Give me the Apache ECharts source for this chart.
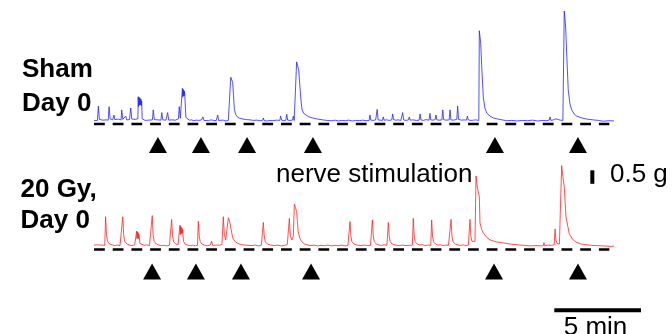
<!DOCTYPE html>
<html><head><meta charset="utf-8">
<script src="https://cdn.jsdelivr.net/npm/echarts@6/dist/echarts.min.js"></script>
<style>html,body{margin:0;padding:0;background:#fff}#c{width:672px;height:334px}</style>
</head><body><div id="c"></div>
<script>
// time in minutes, force in g (baseline = 0)
const shamTrace = [[0.00,0.03],[0.10,0.06],[0.20,0.04],[0.25,0.57],[0.31,0.08],[0.40,0.10],[0.50,0.05],[0.60,0.12],[0.70,0.06],[0.82,0.05],[0.87,0.55],[0.93,0.10],[1.00,0.08],[1.08,0.06],[1.15,0.24],[1.20,0.07],[1.30,0.04],[1.40,0.09],[1.50,0.05],[1.56,0.06],[1.60,0.43],[1.66,0.08],[1.75,0.05],[1.83,0.20],[1.88,0.06],[1.95,0.04],[2.05,0.07],[2.12,0.50],[2.18,0.09],[2.28,0.05],[2.38,0.08],[2.48,0.06],[2.53,0.10],[2.55,0.92],[2.57,0.55],[2.59,0.90],[2.61,0.60],[2.63,0.88],[2.65,0.62],[2.67,0.85],[2.69,0.62],[2.71,0.82],[2.73,0.58],[2.75,0.75],[2.78,0.10],[2.85,0.06],[2.95,0.04],[3.05,0.08],[3.15,0.05],[3.25,0.03],[3.37,0.06],[3.42,0.43],[3.48,0.07],[3.58,0.04],[3.70,0.06],[3.80,0.03],[3.86,0.05],[3.91,0.33],[3.97,0.06],[4.05,0.04],[4.15,0.05],[4.20,0.06],[4.25,0.33],[4.31,0.05],[4.40,0.03],[4.50,0.06],[4.60,0.04],[4.70,0.05],[4.80,0.08],[4.87,0.10],[4.92,0.55],[4.98,0.12],[5.06,0.10],[5.10,1.23],[5.12,0.90],[5.14,1.20],[5.16,0.95],[5.18,1.15],[5.20,0.95],[5.22,1.12],[5.24,0.98],[5.27,1.05],[5.30,0.15],[5.38,0.08],[5.50,0.05],[5.62,0.06],[5.75,0.03],[5.90,0.05],[6.05,0.04],[6.20,0.06],[6.25,0.03],[6.29,0.17],[6.34,0.04],[6.45,0.05],[6.60,0.03],[6.75,0.06],[6.90,0.04],[7.05,0.03],[7.10,0.05],[7.14,0.24],[7.19,0.04],[7.30,0.03],[7.45,0.05],[7.60,0.02],[7.75,0.04],[7.84,0.03],[7.89,1.64],[8.00,1.45],[8.05,0.95],[8.10,0.45],[8.18,0.25],[8.30,0.15],[8.42,0.12],[8.60,0.09],[8.80,0.07],[9.00,0.06],[9.20,0.04],[9.40,0.05],[9.60,0.03],[9.72,0.04],[9.77,0.13],[9.82,0.03],[10.00,0.02],[10.15,0.04],[10.28,0.03],[10.33,0.10],[10.38,0.03],[10.55,0.05],[10.72,0.04],[10.77,0.20],[10.82,0.05],[10.95,0.03],[11.07,0.05],[11.12,0.27],[11.17,0.05],[11.30,0.04],[11.45,0.05],[11.50,0.20],[11.55,0.04],[11.64,0.03],[11.69,2.21],[11.81,1.91],[11.88,1.30],[11.94,0.80],[12.00,0.45],[12.10,0.30],[12.20,0.23],[12.40,0.17],[12.63,0.13],[12.90,0.09],[13.20,0.06],[13.42,0.04],[13.70,0.03],[13.90,0.05],[14.10,0.02],[14.30,0.04],[14.50,0.03],[14.70,0.05],[14.90,0.02],[15.10,0.04],[15.30,0.03],[15.50,0.05],[15.70,0.03],[15.87,0.04],[15.92,0.24],[15.97,0.05],[16.10,0.04],[16.25,0.06],[16.30,0.05],[16.34,0.45],[16.39,0.06],[16.50,0.05],[16.64,0.04],[16.69,0.17],[16.74,0.05],[16.90,0.06],[17.05,0.04],[17.18,0.06],[17.23,0.28],[17.28,0.07],[17.40,0.05],[17.55,0.06],[17.70,0.04],[17.76,0.07],[17.81,0.33],[17.86,0.06],[18.00,0.04],[18.14,0.06],[18.19,0.17],[18.24,0.05],[18.40,0.06],[18.60,0.04],[18.76,0.05],[18.81,0.28],[18.86,0.06],[19.00,0.04],[19.15,0.07],[19.33,0.05],[19.38,0.30],[19.43,0.06],[19.55,0.05],[19.68,0.07],[19.73,0.24],[19.78,0.06],[19.90,0.05],[20.07,0.06],[20.12,0.43],[20.17,0.07],[20.30,0.05],[20.49,0.06],[20.54,0.43],[20.59,0.06],[20.75,0.05],[20.93,0.08],[20.98,0.57],[21.03,0.08],[21.20,0.05],[21.35,0.06],[21.49,0.05],[21.54,0.20],[21.59,0.06],[21.75,0.04],[21.90,0.05],[22.03,0.06],[22.08,0.13],[22.13,0.05],[22.20,0.04],[22.23,3.36],[22.31,2.90],[22.37,2.02],[22.46,0.91],[22.55,0.50],[22.66,0.31],[22.85,0.20],[23.04,0.13],[23.30,0.09],[23.55,0.06],[23.81,0.03],[24.10,0.04],[24.40,0.02],[24.70,0.04],[25.00,0.03],[25.30,0.05],[25.60,0.02],[25.90,0.04],[26.10,0.03],[26.26,0.05],[26.31,0.17],[26.36,0.04],[26.50,0.06],[26.65,0.10],[26.72,0.04],[26.90,0.05],[27.05,0.04],[27.09,0.06],[27.13,4.09],[27.21,3.50],[27.27,2.54],[27.36,1.17],[27.46,0.65],[27.56,0.43],[27.70,0.28],[27.85,0.20],[28.10,0.14],[28.42,0.09],[28.80,0.06],[29.10,0.04],[29.38,0.01],[29.70,0.03],[30.00,0.02]];

const gyTrace = [[0.00,0.06],[0.10,0.03],[0.20,0.07],[0.30,0.04],[0.40,0.06],[0.50,0.03],[0.62,0.05],[0.67,1.11],[0.72,0.45],[0.78,0.20],[0.90,0.10],[1.05,0.07],[1.20,0.04],[1.35,0.06],[1.50,0.04],[1.61,0.05],[1.66,1.11],[1.71,0.45],[1.77,0.20],[1.90,0.10],[2.05,0.06],[2.20,0.04],[2.35,0.07],[2.43,0.10],[2.46,0.58],[2.48,0.30],[2.50,0.55],[2.52,0.32],[2.54,0.52],[2.56,0.30],[2.58,0.48],[2.61,0.40],[2.65,0.12],[2.75,0.06],[2.90,0.05],[3.05,0.07],[3.20,0.04],[3.31,0.06],[3.36,1.15],[3.41,0.45],[3.47,0.20],[3.60,0.10],[3.75,0.06],[3.90,0.04],[4.05,0.05],[4.20,0.03],[4.35,0.05],[4.43,0.06],[4.48,1.01],[4.53,0.40],[4.59,0.18],[4.72,0.10],[4.85,0.08],[4.93,0.12],[4.96,0.80],[4.98,0.45],[5.00,0.76],[5.02,0.48],[5.04,0.72],[5.06,0.50],[5.08,0.68],[5.10,0.50],[5.12,0.62],[5.16,0.20],[5.25,0.10],[5.40,0.06],[5.55,0.04],[5.70,0.06],[5.85,0.03],[5.97,0.05],[6.02,0.95],[6.07,0.40],[6.13,0.18],[6.25,0.09],[6.40,0.05],[6.55,0.04],[6.70,0.06],[6.75,0.04],[6.79,0.21],[6.84,0.05],[6.95,0.04],[7.10,0.06],[7.25,0.05],[7.38,0.08],[7.46,1.11],[7.52,0.45],[7.60,0.25],[7.68,0.30],[7.75,1.07],[7.82,0.95],[7.89,0.88],[7.95,0.50],[8.02,0.30],[8.15,0.18],[8.30,0.12],[8.50,0.08],[8.70,0.06],[8.90,0.05],[9.10,0.04],[9.30,0.06],[9.50,0.03],[9.65,0.05],[9.72,0.06],[9.77,0.90],[9.82,0.40],[9.88,0.18],[10.00,0.10],[10.20,0.06],[10.40,0.04],[10.60,0.06],[10.80,0.03],[11.00,0.05],[11.15,0.08],[11.27,1.05],[11.33,0.40],[11.42,0.25],[11.50,0.40],[11.56,1.57],[11.62,1.45],[11.69,1.30],[11.74,0.90],[11.78,0.56],[11.88,0.30],[11.98,0.19],[12.15,0.10],[12.30,0.07],[12.46,0.04],[12.70,0.06],[12.90,0.03],[13.10,0.05],[13.30,0.04],[13.50,0.06],[13.70,0.03],[13.90,0.05],[14.10,0.04],[14.30,0.06],[14.50,0.03],[14.65,0.05],[14.72,0.06],[14.77,0.93],[14.82,0.40],[14.88,0.18],[15.00,0.10],[15.20,0.06],[15.40,0.04],[15.60,0.06],[15.80,0.04],[15.95,0.05],[16.01,0.06],[16.06,0.99],[16.11,0.42],[16.17,0.18],[16.30,0.10],[16.45,0.06],[16.60,0.05],[16.75,0.07],[16.90,0.05],[16.93,0.08],[16.98,0.90],[17.03,0.40],[17.09,0.18],[17.20,0.10],[17.40,0.06],[17.60,0.04],[17.80,0.06],[18.00,0.04],[18.20,0.05],[18.37,0.06],[18.42,1.05],[18.47,0.42],[18.53,0.18],[18.65,0.10],[18.80,0.06],[18.95,0.08],[19.10,0.04],[19.25,0.06],[19.43,0.05],[19.48,0.99],[19.53,0.40],[19.59,0.18],[19.70,0.10],[19.85,0.06],[20.00,0.07],[20.15,0.04],[20.30,0.06],[20.45,0.05],[20.55,0.06],[20.60,1.01],[20.65,0.40],[20.71,0.18],[20.85,0.10],[21.00,0.06],[21.15,0.05],[21.30,0.07],[21.45,0.04],[21.60,0.06],[21.64,0.08],[21.69,1.01],[21.74,0.40],[21.80,0.20],[21.90,0.15],[21.98,0.20],[22.04,2.62],[22.11,2.22],[22.23,1.85],[22.27,0.88],[22.36,0.65],[22.46,0.51],[22.65,0.35],[22.85,0.25],[23.20,0.18],[23.62,0.14],[24.00,0.10],[24.40,0.07],[24.80,0.05],[25.15,0.03],[25.50,0.04],[25.80,0.03],[25.92,0.04],[25.96,0.15],[26.00,0.04],[26.20,0.06],[26.40,0.05],[26.55,0.07],[26.60,0.66],[26.65,0.25],[26.72,0.12],[26.85,0.10],[26.95,0.15],[26.98,3.00],[27.05,2.60],[27.13,2.21],[27.23,1.10],[27.42,0.48],[27.60,0.28],[27.81,0.17],[28.10,0.10],[28.56,0.06],[29.00,0.04],[29.40,0.03],[29.88,0.01],[30.00,0.03]];

// nerve stimulation times (min)
const shamStim = [3.69, 6.17, 8.83, 12.63, 23.13, 27.92];
const gyStim = [3.35, 5.88, 8.48, 12.52, 23.08, 27.92];
// dashed reference line extent (min)
const baselineSpan = [0, 29.73];
// scale bars
const scaleForce = 0.5;   // g
const scaleTime = 5;      // min
const labels = {sham: ['Sham', 'Day 0'], gy: ['20 Gy,', 'Day 0'], stim: 'nerve stimulation', force: '0.5 g', time: '5 min'};

const chart = echarts.init(document.getElementById('c'), null, {renderer: 'canvas'});
const FONT = '"Liberation Sans", Arial, sans-serif';
const stimY0 = -0.87, stimY1 = -0.92, dashY0 = -0.09, dashY1 = -0.10;
const barT = 28.75, barY = 2.33, hbarY = -2.35;

chart.setOption({
  animation: false,
  backgroundColor: '#fff',
  grid: [
    {left: 94, width: 520, top: 0, height: 162, show: false},
    {left: 94, width: 520, top: 152.2, height: 175.5, show: false},
    {left: 554.3, width: 86.67, top: 152.2, height: 175.5, show: false}
  ],
  xAxis: [
    {gridIndex: 0, type: 'value', min: 0, max: 30, show: false},
    {gridIndex: 1, type: 'value', min: 0, max: 30, show: false},
    {gridIndex: 2, type: 'value', min: 0, max: scaleTime, show: false}
  ],
  yAxis: [
    {gridIndex: 0, type: 'value', min: -1.5, max: 4.5, show: false},
    {gridIndex: 1, type: 'value', min: -3, max: 3.5, show: false},
    {gridIndex: 2, type: 'value', min: -3, max: 3.5, show: false}
  ],
  series: [
    {type: 'line', xAxisIndex: 0, yAxisIndex: 0, data: [[baselineSpan[0], dashY0], [baselineSpan[1], dashY0]], symbol: 'none',
     lineStyle: {color: '#000', width: 2.5, type: [10.8, 7.9]}, silent: true, clip: false},
    {type: 'line', xAxisIndex: 1, yAxisIndex: 1, data: [[baselineSpan[0], dashY1], [baselineSpan[1], dashY1]], symbol: 'none',
     lineStyle: {color: '#000', width: 2.5, type: [10.8, 7.9]}, silent: true, clip: false},
    {type: 'line', xAxisIndex: 0, yAxisIndex: 0, data: shamTrace, symbol: 'none',
     lineStyle: {color: '#2424ff', width: 0.8}, silent: true, clip: false},
    {type: 'line', xAxisIndex: 1, yAxisIndex: 1, data: gyTrace, symbol: 'none',
     lineStyle: {color: '#ff2424', width: 0.8}, silent: true, clip: false},
    {type: 'scatter', xAxisIndex: 0, yAxisIndex: 0, data: shamStim.map(t => [t, stimY0]), symbol: 'triangle', symbolSize: [18, 16],
     itemStyle: {color: '#000', opacity: 1}, silent: true, clip: false},
    {type: 'scatter', xAxisIndex: 1, yAxisIndex: 1, data: gyStim.map(t => [t, stimY1]), symbol: 'triangle', symbolSize: [18, 16],
     itemStyle: {color: '#000', opacity: 1}, silent: true, clip: false},
    {type: 'line', xAxisIndex: 1, yAxisIndex: 1, data: [[barT, barY], [barT, barY + scaleForce]], symbol: 'none',
     lineStyle: {color: '#000', width: 4, cap: 'butt'}, silent: true, clip: false},
    {type: 'line', xAxisIndex: 2, yAxisIndex: 2, data: [[0, hbarY], [scaleTime, hbarY]], symbol: 'none',
     lineStyle: {color: '#000', width: 4, cap: 'butt'}, silent: true, clip: false}
  ],
  graphic: [
    {type: 'text', x: 22, y: 70, style: {text: labels.sham[0], font: 'bold 26px ' + FONT, fill: '#000', verticalAlign: 'middle'}},
    {type: 'text', x: 22, y: 104.3, style: {text: labels.sham[1], font: 'bold 26px ' + FONT, fill: '#000', verticalAlign: 'middle'}},
    {type: 'text', x: 20.5, y: 189.6, style: {text: labels.gy[0], font: 'bold 26px ' + FONT, fill: '#000', verticalAlign: 'middle'}},
    {type: 'text', x: 20.5, y: 221.3, style: {text: labels.gy[1], font: 'bold 26px ' + FONT, fill: '#000', verticalAlign: 'middle'}},
    {type: 'text', x: 276, y: 175, style: {text: labels.stim, font: '26px ' + FONT, fill: '#000', verticalAlign: 'middle'}},
    {type: 'text', x: 610, y: 175, style: {text: labels.force, font: '26px ' + FONT, fill: '#000', verticalAlign: 'middle'}},
    {type: 'text', x: 563.7, y: 327.5, style: {text: labels.time, font: '26px ' + FONT, fill: '#000', verticalAlign: 'middle'}}
  ]
});
</script></body></html>
